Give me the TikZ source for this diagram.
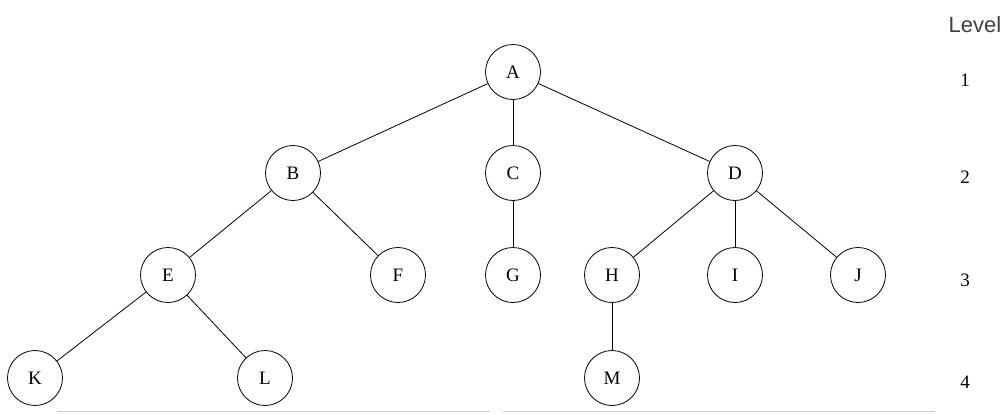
\documentclass[tikz,border=0pt]{standalone}
\usepackage{fontspec}
\setmainfont{Liberation Serif}
\newfontfamily\levelfont{Liberation Sans}
\usetikzlibrary{positioning}
\begin{document}
\begin{tikzpicture}[x=1pt,y=-1pt,
    vertex/.style={circle, draw, thick, minimum size=55pt, inner sep=0pt,
      font=\fontsize{19}{20}\selectfont},
    levelnum/.style={font=\fontsize{19}{20}\selectfont}]
    \useasboundingbox (0,0) rectangle (1008,413);
    % level 1 and 2
    \node[vertex] (nA) at (513,72) {A};
    \node[vertex] (nB) at (293,173) {B};
    \node[vertex] (nC) at (513,173) {C};
    \node[vertex] (nD) at (735,173) {D};
    % level 3
    \foreach \n/\x/\t in {nE/168/E, nF/398/F, nG/513/G, nH/612/H, nI/735/I, nJ/858/J}
    {
        \node[vertex] (\n) at (\x,275) {\t};
    };
    % level 4
    \foreach \n/\x/\t in {nK/35/K, nL/265/L, nM/612/M}
    {
        \node[vertex] (\n) at (\x,378) {\t};
    };
    \foreach \u/\v in {nA/nB, nA/nC, nA/nD, nB/nE, nB/nF, nC/nG,
        nD/nH, nD/nI, nD/nJ, nE/nK, nE/nL, nH/nM}
    {
        \draw[thick] (\u) -- (\v);
    };
    % levels
    \node[font=\levelfont\fontsize{22}{24}\selectfont, text=black!75] (tLevel) at (975,25) {Level};
    \foreach \k/\y in {1/80, 2/177, 3/280, 4/382}
    {
        \node[levelnum] (tL\k) at (965,\y) {\k};
    };
    \coordinate (cS1) at (57,411);
    \coordinate (cS2) at (490,411);
    \coordinate (cS3) at (503,411);
    \coordinate (cS4) at (935,411);
    \draw[black!20, thick] (cS1) -- (cS2) (cS3) -- (cS4);
\end{tikzpicture}
\end{document}
